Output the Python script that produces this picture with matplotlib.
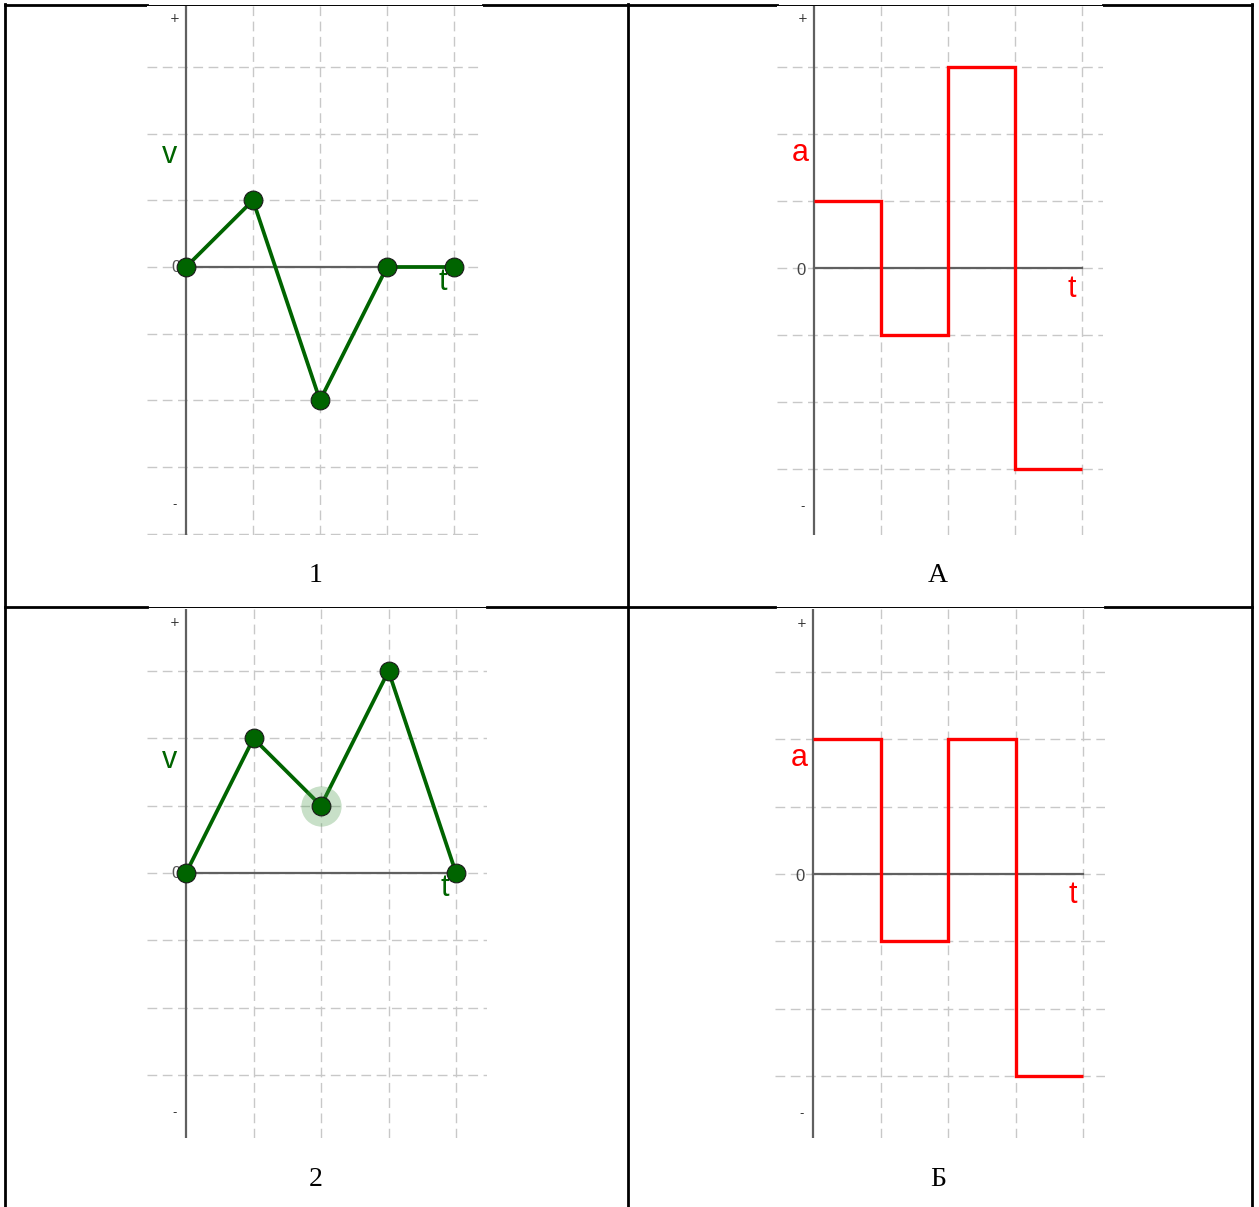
import matplotlib
matplotlib.use("Agg")
import matplotlib.pyplot as plt

# velocity graphs (left column): points v(t)
t_pts = [0, 1, 2, 3, 4]
v_1 = [0, 1, -2, 0, 0]
v_2 = [0, 2, 1, 3, 0]
# acceleration graphs (right column): step values on each interval
t_edges = [0, 1, 2, 3, 4]
a_A = [1, -1, 3, -3]
a_B = [2, -1, 2, -3]

cell_labels = ["1", "А", "2", "Б"]

W, H = 1259, 1207
fig = plt.figure(figsize=(W / 100, H / 100), dpi=100)

GREEN = "#006400"
RED = "#ff0000"
GRID = "#c8c8c8"
AXIS = "#606060"


def panel(origin, unit, box):
    # origin/unit/box in pixels -> axes with grid-unit data coords
    ox, oy = origin
    ux, uy = unit
    x0, x1, y0, y1 = box
    ax = fig.add_axes([x0 / W, 1 - y1 / H, (x1 - x0) / W, (y1 - y0) / H])
    xmin, xmax = (x0 - ox) / ux, (x1 - ox) / ux
    ymin, ymax = (oy - y1) / uy, (oy - y0) / uy
    ax.set_xlim(xmin, xmax)
    ax.set_ylim(ymin, ymax)
    for s in ax.spines.values():
        s.set_visible(False)
    ax.set_xticks([])
    ax.set_yticks([])
    for k in range(-4, 5):
        if ymin - 0.05 <= k <= ymax:
            ax.plot([xmin, xmax], [k, k], color=GRID, lw=1.0,
                    ls=(0, (7, 4)), zorder=1)
    for k in range(1, 5):
        ax.plot([k, k], [ymin, ymax], color=GRID, lw=1.0,
                ls=(0, (7, 4)), zorder=1)
    ax.plot([0, 0], [ymin, ymax], color=AXIS, lw=1.6, zorder=2)
    ax.plot([0, 4], [0, 0], color=AXIS, lw=1.6, zorder=2)
    ax.text(-0.17, 3.72, "+", fontsize=8.5, color="#333333",
            ha="center", va="center")
    ax.text(-0.17, -3.56, "-", fontsize=8.5, color="#333333",
            ha="center", va="center")
    return ax


def vel_panel(origin, unit, box, v, halo=None):
    ax = panel(origin, unit, box)
    ax.text(-0.15, 0, "0", fontsize=12, color="#555555",
            ha="center", va="center", family="Liberation Sans", zorder=1)
    ax.plot(t_pts, v, color=GREEN, lw=2.7, zorder=3)
    if halo is not None:
        ax.plot(t_pts[halo], v[halo], "o", ms=29, color="#4a9a4a",
                alpha=0.3, mec="none", zorder=3)
    ax.plot(t_pts, v, "o", ms=13.5, mfc=GREEN, mec="#1a1a1a", mew=0.8,
            zorder=4)
    ax.text(-0.24, 1.68, "v", fontsize=22, color=GREEN,
            ha="center", va="center", family="Liberation Sans")
    ax.text(3.83, -0.23, "t", fontsize=22, color=GREEN,
            ha="center", va="center", family="Liberation Sans")
    return ax


def acc_panel(origin, unit, box, a):
    ax = panel(origin, unit, box)
    ax.text(-0.19, -0.03, "0", fontsize=12, color="#444444",
            ha="center", va="center", family="Liberation Sans")
    ax.stairs(a, t_edges, baseline=None, color=RED, lw=2.4, zorder=3)
    ax.text(-0.21, 1.72, "a", fontsize=22, color=RED,
            ha="center", va="center", family="Liberation Sans")
    ax.text(3.85, -0.31, "t", fontsize=22, color=RED,
            ha="center", va="center", family="Liberation Sans")
    return ax


vel_panel((186, 267), (67, 66.7), (147, 483, 6, 535), v_1)
acc_panel((814, 268), (67, 67), (777, 1103, 6, 535), a_A)
vel_panel((186, 873), (67.5, 67.3), (147, 487, 609, 1138), v_2, halo=2)
acc_panel((813, 874), (67.5, 67.3), (775, 1105, 609, 1138), a_B)

# table frame drawn on a full-figure overlay in pixel coords
tab = fig.add_axes([0, 0, 1, 1], zorder=-1)
tab.set_xlim(0, W)
tab.set_ylim(H, 0)
tab.axis("off")
thick = 2.0
for x in [5, 628, 1252]:
    tab.plot([x, x], [4, H], color="black", lw=thick)
for y, gaps in [(5, [(147, 483), (777, 1103)]), (607, [(147, 487), (775, 1105)])]:
    edges = [5] + [g for pair in gaps for g in pair] + [1252]
    for i in range(0, len(edges), 2):
        tab.plot([edges[i], edges[i + 1]], [y, y], color="black", lw=thick)
    for g0, g1 in gaps:
        tab.plot([g0, g1], [y, y], color="black", lw=0.7)

label_pos = [(316, 575), (938, 575), (316, 1179), (938, 1179)]
for lab, (px, py) in zip(cell_labels, label_pos):
    tab.text(px, py, lab, fontsize=20, family="Liberation Serif",
             ha="center", va="center", color="black")

fig.savefig("out.png", dpi=100)
